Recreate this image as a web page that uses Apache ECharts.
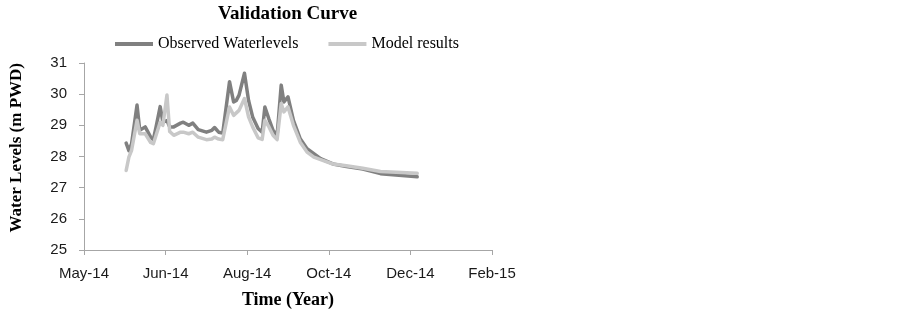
<!DOCTYPE html>
<html>
<head>
<meta charset="utf-8">
<script src="https://cdn.jsdelivr.net/npm/echarts@6/dist/echarts.min.js"></script>
<style>
html,body{margin:0;padding:0;background:#fff;}
#chart{width:903px;height:312px;}
</style>
</head>
<body>
<div id="chart"></div>
<script>
const dates = ['2014-06-01','2014-06-03','2014-06-05','2014-06-09','2014-06-11','2014-06-15','2014-06-19','2014-06-21','2014-06-23','2014-06-26','2014-06-28','2014-07-01','2014-07-03','2014-07-06','2014-07-11','2014-07-13','2014-07-17','2014-07-20','2014-07-24','2014-07-30','2014-08-03','2014-08-05','2014-08-08','2014-08-11','2014-08-16','2014-08-19','2014-08-21','2014-08-23','2014-08-27','2014-08-30','2014-09-02','2014-09-06','2014-09-09','2014-09-11','2014-09-14','2014-09-17','2014-09-20','2014-09-23','2014-09-25','2014-09-28','2014-10-02','2014-10-07','2014-10-12','2014-10-17','2014-10-22','2014-10-31','2014-11-10','2014-11-22','2014-12-05','2015-01-01'];
const observed = [28.43,28.19,28.41,29.65,28.84,28.95,28.62,28.54,28.95,29.6,29.1,29.15,28.95,28.95,29.07,29.1,29.0,29.07,28.86,28.78,28.84,28.93,28.78,28.75,30.4,29.75,29.8,29.97,30.67,29.8,29.27,28.9,28.78,29.59,29.2,28.84,28.68,30.29,29.75,29.91,29.16,28.57,28.25,28.09,27.93,27.76,27.68,27.6,27.45,27.35];
const model = [27.55,27.98,28.2,29.16,28.73,28.73,28.45,28.41,28.68,29.1,29.0,29.97,28.8,28.68,28.78,28.78,28.73,28.78,28.62,28.54,28.56,28.62,28.56,28.54,29.59,29.32,29.4,29.48,29.86,29.27,28.95,28.6,28.55,29.16,28.95,28.68,28.54,29.7,29.43,29.59,29.0,28.46,28.14,27.98,27.9,27.76,27.7,27.62,27.52,27.46];
const xTickLabels = ['May-14','Jun-14','Aug-14','Oct-14','Dec-14','Feb-15'];
const seriesNames = ['Observed Waterlevels','Model results'];

const origin = Date.UTC(2014,4,1);
function dayOffset(s){
  const p = s.split('-').map(Number);
  return (Date.UTC(p[0],p[1]-1,p[2]) - origin)/86400000;
}
const obsData = dates.map((d,i)=>[dayOffset(d), observed[i]]);
const modData = dates.map((d,i)=>[dayOffset(d), model[i]]);

const serif = '"Liberation Serif","Times New Roman",serif';
const sans = '"Liberation Sans",Arial,sans-serif';
const chart = echarts.init(document.getElementById('chart'));
chart.setOption({
  animation:false,
  title:{text:'Validation Curve',left:213,top:0,
    textStyle:{fontFamily:serif,fontWeight:'bold',fontSize:19,color:'#000'}},
  legend:{left:110,top:31,itemWidth:38,itemHeight:4,itemGap:30,icon:'rect',
    textStyle:{fontFamily:serif,fontSize:16,color:'#000'},data:seriesNames},
  grid:{left:84,right:411,top:63,bottom:62,outerBoundsMode:'none',containLabel:false},
  xAxis:{type:'value',min:0,max:300,interval:60,
    axisLine:{lineStyle:{color:'#a6a6a6',width:1}},
    axisTick:{show:true,length:5,lineStyle:{color:'#a6a6a6'}},
    splitLine:{show:false},
    axisLabel:{margin:16,fontFamily:sans,fontSize:15,color:'#1a1a1a',
      formatter:v=>xTickLabels[Math.round(v/60)]},
    name:'Time (Year)',nameLocation:'middle',nameGap:41,
    nameTextStyle:{fontFamily:serif,fontWeight:'bold',fontSize:18,color:'#000'}},
  yAxis:{type:'value',min:25,max:31,interval:1,
    axisLine:{show:true,lineStyle:{color:'#a6a6a6',width:1}},
    axisTick:{show:true,length:5,lineStyle:{color:'#a6a6a6'}},
    splitLine:{show:false},
    axisLabel:{margin:17,fontFamily:sans,fontSize:15,color:'#1a1a1a'}},
  graphic:[{type:'text',left:8,top:63,rotation:Math.PI/2,
    style:{text:'Water Levels (m PWD)',font:'bold 17px '+serif,fill:'#000'}}],
  series:[
    {name:seriesNames[0],type:'line',data:obsData,showSymbol:false,
      lineStyle:{width:3.5,color:'#808080',cap:'round',join:'round'},itemStyle:{color:'#808080'}},
    {name:seriesNames[1],type:'line',data:modData,showSymbol:false,
      lineStyle:{width:3.5,color:'#c8c8c8',cap:'round',join:'round'},itemStyle:{color:'#c8c8c8'}}
  ]
});
</script>
</body>
</html>
